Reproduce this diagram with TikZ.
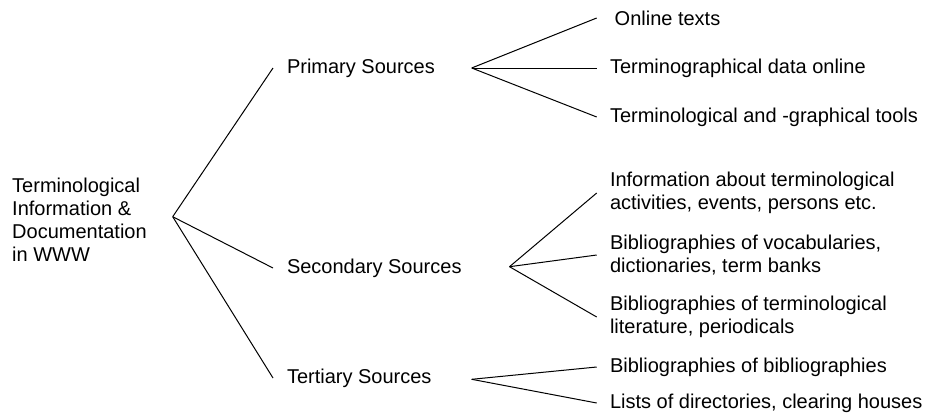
\documentclass[tikz,border=0pt]{standalone}
\usepackage{fontspec}
\setmainfont{Liberation Sans}
\begin{document}
\begin{tikzpicture}[x=1pt,y=-1pt,
  every node/.style={font=\fontsize{20}{23}\selectfont, inner sep=0pt, anchor=west, align=left},
  branch/.style={draw, line width=1pt},
  lbl/.style={outer xsep=14pt},
  item/.style={outer xsep=13.3pt}]
\useasboundingbox (0,0) rectangle (926,416);
% root
\node (root) at (12,220) {Terminological\\Information \&\\Documentation\\in WWW};
\coordinate (rf) at (172.7,216.7);
% level 1
\node[lbl] (prim) at (273,68) {Primary Sources};
\node[lbl] (sec) at (273,268) {Secondary Sources};
\node[lbl] (ter) at (273,378) {Tertiary Sources};
\coordinate (pf) at (471.7,68);
\coordinate (sf) at (509.5,266.7);
\coordinate (tf) at (471.7,379.3);
% level 2
\node[item, outer xsep=18pt] (p1) at (596.7,18) {Online texts};
\node[item] (p2) at (596.7,68) {Terminographical data online};
\node[item] (p3) at (596.7,117) {Terminological and -graphical tools};
\node[item] (s1) at (596.7,193) {Information about terminological\\activities, events, persons etc.};
\node[item] (s2) at (596.7,255) {Bibliographies of vocabularies,\\dictionaries, term banks};
\node[item] (s3) at (596.7,317) {Bibliographies of terminological\\literature, periodicals};
\node[item] (t1) at (596.7,367) {Bibliographies of bibliographies};
\node[item] (t2) at (596.7,403) {Lists of directories, clearing houses};
% connectors
\draw[branch] (rf) -- (prim.west);
\draw[branch] (rf) -- (sec.west);
\draw[branch] (rf) -- (ter.west);
\draw[branch] (pf) -- (p1.west);
\draw[branch] (pf) -- (p2.west);
\draw[branch] (pf) -- (p3.west);
\draw[branch] (sf) -- (s1.west);
\draw[branch] (sf) -- (s2.west);
\draw[branch] (sf) -- (s3.west);
\draw[branch] (tf) -- (t1.west);
\draw[branch] (tf) -- (t2.west);
\end{tikzpicture}
\end{document}
